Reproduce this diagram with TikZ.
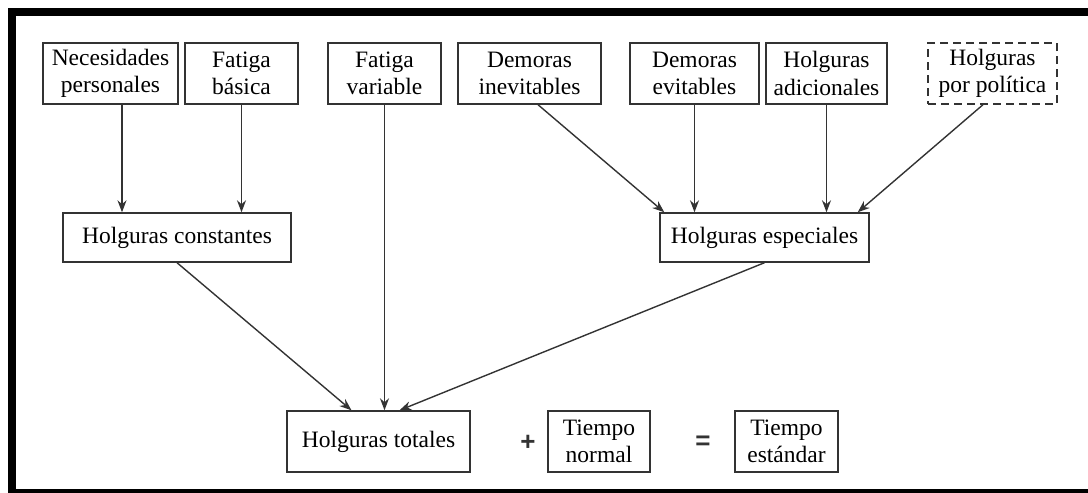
\documentclass[tikz,border=0pt]{standalone}
\usepackage{fontspec}
\setmainfont{Liberation Serif}
\newfontfamily\opfont{Liberation Sans}
\usetikzlibrary{arrows.meta,calc}
\definecolor{ink}{HTML}{333333}
\begin{document}
\begin{tikzpicture}[x=1pt,y=-1pt,
  box/.style={draw=ink,line width=1.4pt,inner sep=0pt,align=center,
    font=\fontsize{23.5}{27.5}\selectfont,text=black},
  tallbox/.style={box,minimum height=61pt},
  lowbox/.style={box,minimum height=49pt},
  dashbox/.style={tallbox,dash pattern=on 8pt off 5pt},
  arr/.style={draw=ink,line width=1.4pt,-{Stealth[length=12pt,width=9pt]}},
  op/.style={font=\opfont\fontsize{26}{26}\selectfont\bfseries,text=ink}]
\useasboundingbox (0,0) rectangle (1088,493);
% frame bars
\fill[black] (8,8) rectangle (16,493);
\fill[black] (8,8) rectangle (1088,16);
\fill[black] (8,489) rectangle (1088,493);

% top row
\node[tallbox,minimum width=135pt] (nec) at (110.5,73.5) {Necesidades\\personales};
\node[tallbox,minimum width=113pt] (fb)  at (241.5,73.5) {Fatiga\\básica};
\node[tallbox,minimum width=113pt] (fv)  at (384.5,73.5) {Fatiga\\variable};
\node[tallbox,minimum width=143pt] (di)  at (529.5,73.5) {Demoras\\inevitables};
\node[tallbox,minimum width=129pt] (de)  at (694.5,73.5) {Demoras\\evitables};
\node[tallbox,minimum width=121pt] (ha)  at (826.5,73.5) {Holguras\\adicionales};
\node[dashbox,minimum width=129pt] (hp)  at (992.5,73.5) {Holguras\\por política};

% middle row
\node[lowbox,minimum width=228pt] (hc) at (177,237.5) {Holguras constantes};
\node[lowbox,minimum width=209pt] (he) at (764.5,237.5) {Holguras especiales};

% bottom row
\node[tallbox,minimum width=183pt] (ht) at (378.5,441.5) {Holguras totales};
\node[op] (plus) at (528,443) {+};
\node[tallbox,minimum width=102pt] (tn) at (599,441.5) {Tiempo\\normal};
\node[op] (eq) at (703,443) {=};
\node[tallbox,minimum width=103pt] (te) at (786.5,441.5) {Tiempo\\estándar};

% connectors into the constant allowances
\draw[arr] ([xshift=11.5pt]nec.south) -- ([xshift=11.5pt]nec.south |- hc.north);
\draw[arr] (fb.south) -- (fb.south |- hc.north);
% connectors into the special allowances
\draw[arr] ([xshift=8.5pt]di.south) -- ([xshift=5pt]he.north west);
\draw[arr] (de.south) -- (de.south |- he.north);
\draw[arr] (ha.south) -- (ha.south |- he.north);
\draw[arr] ([xshift=-9.5pt]hp.south) -- ([xshift=-12pt]he.north east);
% connectors into the total allowances
\draw[arr] (hc.south) -- ([xshift=-27pt]ht.north);
\draw[arr] (fv.south) -- (fv.south |- ht.north);
\draw[arr] (he.south) -- ([xshift=21pt]ht.north);
\end{tikzpicture}
\end{document}
